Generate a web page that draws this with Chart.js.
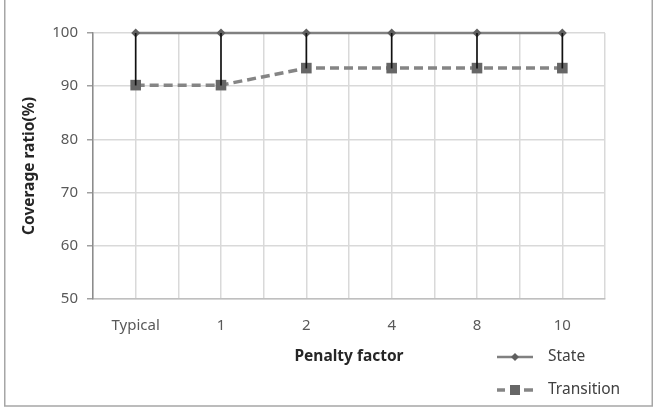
<!DOCTYPE html>
<html>
<head>
<meta charset="utf-8">
<script src="https://cdn.jsdelivr.net/npm/chart.js@4.4.1/dist/chart.umd.min.js"></script>
<style>
  html, body { margin: 0; padding: 0; background: #fff; }
  #wrap { position: absolute; left: 0; top: 0; width: 655px; height: 408px; }
</style>
</head>
<body>
<div id="wrap"><canvas id="c" width="655" height="408"></canvas></div>
<script>
const categories = ['Typical', '1', '2', '4', '8', '10'];
const stateValues = [100, 100, 100, 100, 100, 100];
const transitionValues = [90.2, 90.2, 93.4, 93.4, 93.4, 93.4];
const yTicks = [50, 60, 70, 80, 90, 100];
const seriesNames = ['State', 'Transition'];
const axisTitles = { x: 'Penalty factor', y: 'Coverage ratio(%)' };

const FONT = "'Noto Sans', 'Open Sans', sans-serif";

const frame = {
  id: 'frame',
  beforeDraw(chart) {
    const ctx = chart.ctx;
    ctx.save();
    ctx.fillStyle = '#fff';
    ctx.fillRect(0, 0, chart.width, chart.height);
    ctx.strokeStyle = '#a6a6a6';
    ctx.lineWidth = 1.5;
    ctx.strokeRect(4.75, -2, 647.5, 408);
    ctx.restore();
  }
};

const customLegend = {
  id: 'customLegend',
  afterDraw(chart) {
    const ctx = chart.ctx;
    ctx.save();
    const x0 = 497, x1 = 533, tx = 548;
    const ds0 = chart.data.datasets[0];
    let y = 357;
    ctx.strokeStyle = ds0.borderColor; ctx.lineWidth = ds0.borderWidth;
    ctx.beginPath(); ctx.moveTo(x0, y); ctx.lineTo(x1, y); ctx.stroke();
    ctx.fillStyle = ds0.pointBackgroundColor;
    ctx.beginPath(); ctx.moveTo(515, y - 4); ctx.lineTo(519, y); ctx.lineTo(515, y + 4); ctx.lineTo(511, y); ctx.closePath(); ctx.fill();
    ctx.fillStyle = '#404040';
    ctx.font = '15.5px ' + FONT; ctx.textBaseline = 'middle'; ctx.textAlign = 'left';
    ctx.fillText(ds0.label, tx, y);
    const ds1 = chart.data.datasets[1];
    y = 390;
    ctx.strokeStyle = ds1.borderColor; ctx.lineWidth = ds1.borderWidth;
    ctx.beginPath(); ctx.moveTo(x0, y); ctx.lineTo(505, y); ctx.moveTo(524, y); ctx.lineTo(x1, y); ctx.stroke();
    ctx.fillStyle = ds1.pointBackgroundColor;
    ctx.fillRect(510, y - 5, 10, 10);
    ctx.fillStyle = '#404040';
    ctx.fillText(ds1.label, tx, y);
    ctx.restore();
  }
};

new Chart(document.getElementById('c'), {
  data: {
    labels: categories,
    datasets: [
      {
        type: 'line', label: seriesNames[0], data: stateValues,
        borderColor: '#808080', borderWidth: 2.5,
        pointStyle: 'rectRot', pointRadius: 4.5, pointBackgroundColor: '#5f5f5f', pointBorderWidth: 0,
        tension: 0, order: 2, clip: false
      },
      {
        type: 'line', label: seriesNames[1], data: transitionValues,
        borderColor: '#858585', borderWidth: 3.5, borderDash: [9, 5],
        pointStyle: 'rect', pointRadius: 7.5, pointBackgroundColor: '#666666', pointBorderWidth: 0,
        tension: 0, order: 3, clip: false
      },
      {
        type: 'bar', label: 'hilo', data: categories.map((_, i) => [transitionValues[i], stateValues[i]]),
        backgroundColor: '#111111', barThickness: 1, order: 1
      }
    ]
  },
  options: {
    responsive: false,
    animation: false,
    devicePixelRatio: 1,
    layout: { padding: { left: 0, top: 33, right: 50, bottom: 0 } },
    plugins: { legend: { display: false }, tooltip: { enabled: false } },
    scales: {
      x: {
        type: 'category', position: 'bottom', offset: true,
        grid: { offset: true, color: '#d9d9d9', lineWidth: 1.5, drawTicks: false },
        border: { display: true, color: '#bfbfbf', width: 1.5 },
        ticks: { color: '#595959', font: { family: FONT, size: 15 }, padding: 18, maxRotation: 0 },
        title: { display: true, text: axisTitles.x, color: '#262626', font: { family: FONT, size: 15.5, weight: 'bold' }, padding: { top: 4, bottom: 42 } },
        afterFit(s) { s.height = 109; }
      },
      x2: {
        type: 'category', position: 'bottom', offset: true,
        grid: { offset: false, color: '#d9d9d9', lineWidth: 1.5, drawTicks: false },
        border: { display: false },
        ticks: { display: false },
        afterFit(s) { s.height = 0; }
      },
      y: {
        type: 'linear', min: 50, max: 100,
        afterBuildTicks(s) { s.ticks = yTicks.map(v => ({ value: v })); },
        grid: { color: '#d9d9d9', lineWidth: 1.5, tickLength: 6, tickColor: '#a0a0a0' },
        border: { display: true, color: '#8c8c8c', width: 1.5 },
        ticks: { color: '#595959', font: { family: FONT, size: 15 }, padding: 9 },
        title: { display: true, text: axisTitles.y, color: '#262626', font: { family: FONT, size: 15.5, weight: 'bold' }, padding: { top: 20, bottom: 4 } },
        afterFit(s) { s.width = 93; }
      }
    }
  },
  plugins: [frame, customLegend]
});
</script>
</body>
</html>
